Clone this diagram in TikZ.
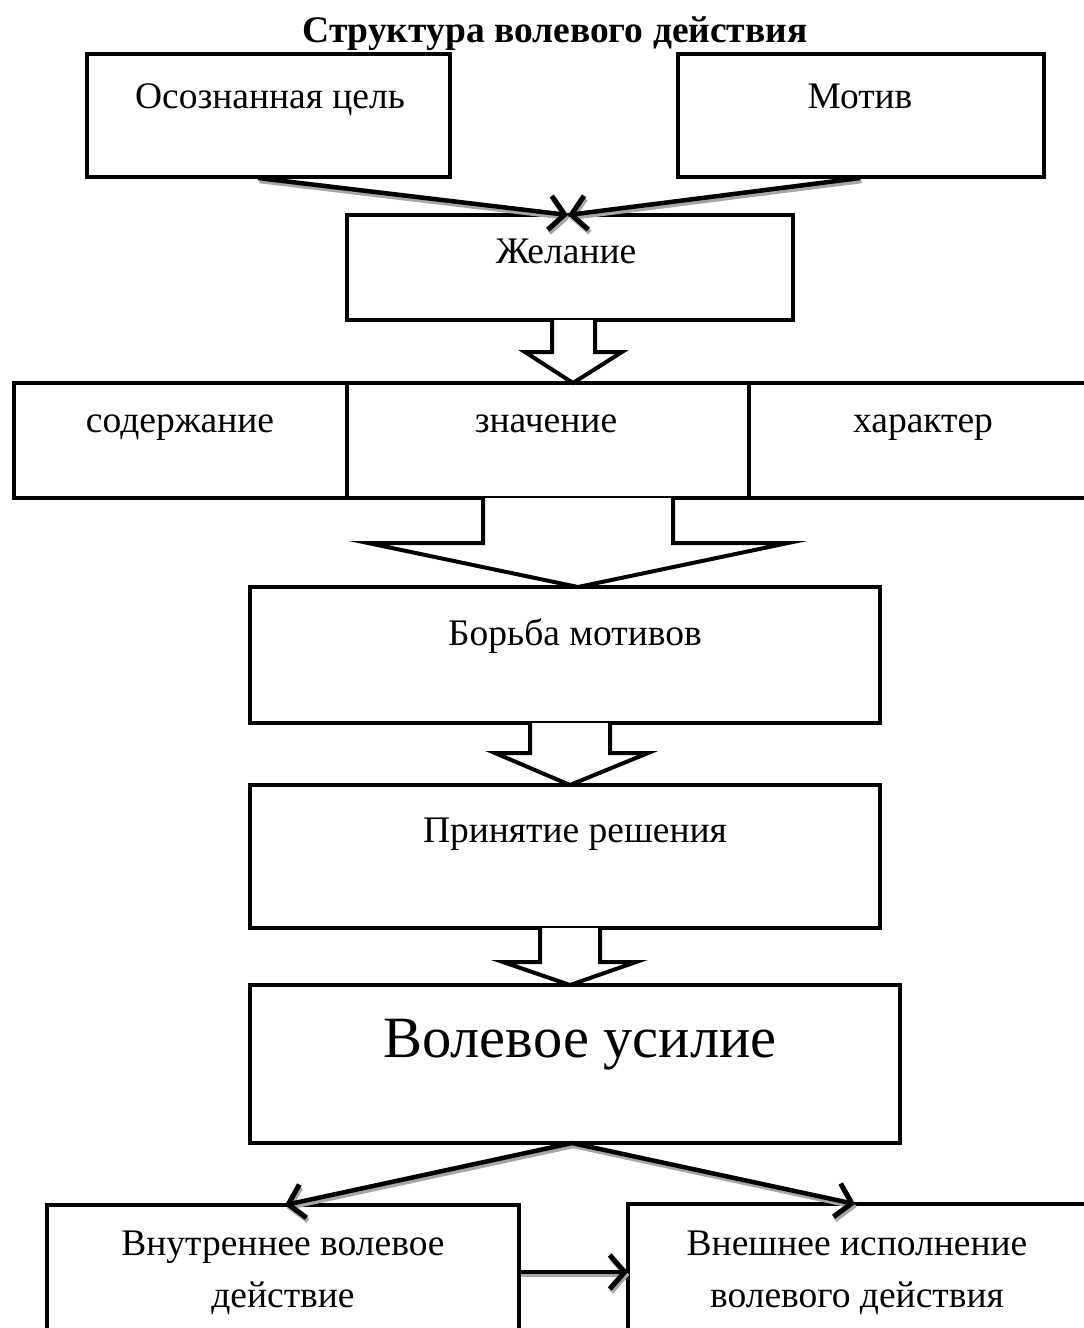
\documentclass[tikz,border=0pt]{standalone}
\usepackage{fontspec}
\setmainfont{Liberation Serif}
\usetikzlibrary{arrows.meta,calc}
\begin{document}
\begin{tikzpicture}[x=1pt,y=-1pt,
  box/.style={draw,line width=4pt,inner sep=0pt,outer sep=0pt,fill=white},
  txt/.style={anchor=base,inner sep=0pt,font=\fontsize{37.5}{43}\selectfont},
  bigtxt/.style={anchor=base,inner sep=0pt,font=\fontsize{58.5}{66}\selectfont},
  blockarrow/.style={draw,fill=white,line width=4pt,line join=miter},
  conn/.style={line width=4.5pt,-{Straight Barb[length=15pt,width=34pt,line width=5pt]},
    preaction={draw=black!35,line width=4.5pt,transform canvas={shift={(1.5pt,-3pt)}}}}]
\useasboundingbox (0,0) rectangle (1084,1328);
\clip (0,0) rectangle (1084,1328);
% title
\node[txt,font=\fontsize{37.5}{43}\selectfont\bfseries] (title) at (555,42) {Структура волевого действия};
% top boxes
\node[box,minimum width=363pt,minimum height=123pt] (A) at (268.5,115.5) {};
\node[box,minimum width=366pt,minimum height=123pt] (B) at (861,115.5) {};
\node[txt] (tA) at (270,108) {Осознанная цель};
\node[txt] (tB) at (860,108) {Мотив};
% desire
\node[box,minimum width=446pt,minimum height=105pt] (C) at (570,267.5) {};
\node[txt] (tC) at (566,263) {Желание};
% row
\node[box,minimum width=333pt,minimum height=115pt] (D) at (180.5,440.5) {};
\node[box,minimum width=402pt,minimum height=115pt] (E) at (548,440.5) {};
\node[box,minimum width=351pt,minimum height=115pt] (F) at (924.5,440.5) {};
\node[txt] (tD) at (180,432) {содержание};
\node[txt] (tE) at (546,432) {значение};
\node[txt] (tF) at (923,432) {характер};
% struggle
\node[box,minimum width=630pt,minimum height=136pt] (G) at (565,655) {};
\node[txt] (tG) at (575,645) {Борьба мотивов};
\node[box,minimum width=630pt,minimum height=143pt] (H) at (565,856.5) {};
\node[txt] (tH) at (575,842) {Принятие решения};
\node[box,minimum width=650pt,minimum height=158pt] (I) at (575,1064) {};
\node[bigtxt] (tI) at (580,1057) {Волевое усилие};
% bottom boxes
\node[box,minimum width=472pt,minimum height=140pt] (J) at (283,1275) {};
\node[box,minimum width=472pt,minimum height=140pt] (K) at (864,1274) {};
\node[txt] (tJ1) at (283,1255) {Внутреннее волевое};
\node[txt] (tJ2) at (283,1307) {действие};
\node[txt] (tK1) at (857,1255) {Внешнее исполнение};
\node[txt] (tK2) at (857,1307) {волевого действия};
% block arrows
\draw[blockarrow] (552,320) -- (552,352) -- (525,352) -- (573,383) -- (622,352) -- (595,352) -- (595,320);
\draw[blockarrow] (483,498) -- (483,543) -- (368,543) -- (578,587) -- (788,543) -- (673,543) -- (673,498);
\draw[blockarrow] (530,723) -- (530,753) -- (495,753) -- (570,785) -- (648,753) -- (610,753) -- (610,723);
\draw[blockarrow] (540,928) -- (540,962) -- (503,962) -- (570,985) -- (636,962) -- (600,962) -- (600,928);
% connector points
\coordinate (a1) at (258,178);
\coordinate (b1) at (860,178);
\coordinate (c1) at (568,215);
\coordinate (i1) at (572,1143);
\coordinate (j1) at (285,1205);
\coordinate (k1) at (855,1204);
\coordinate (j2) at (519,1272);
\coordinate (k2) at (628,1272);
\draw[conn] (a1) -- (c1);
\draw[conn] (b1) -- (c1);
\draw[conn] (i1) -- (j1);
\draw[conn] (i1) -- (k1);
\draw[conn] (j2) -- (k2);
\end{tikzpicture}
\end{document}
